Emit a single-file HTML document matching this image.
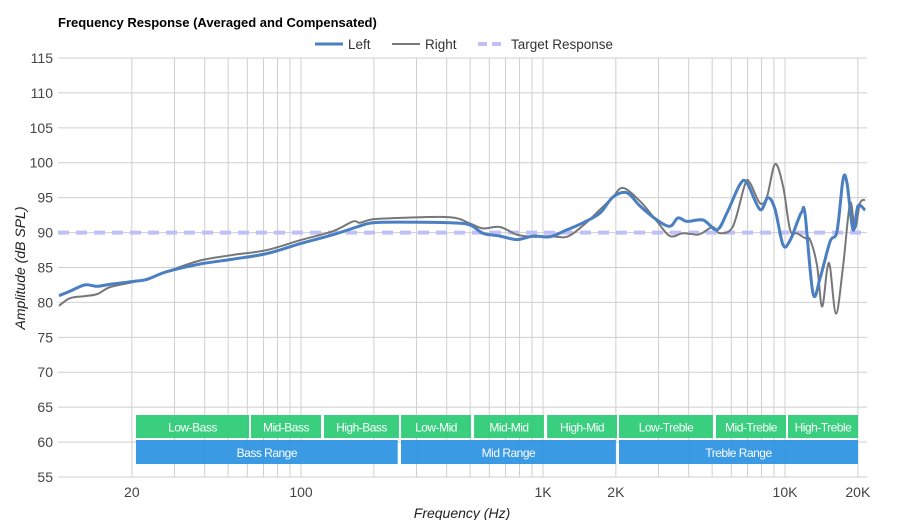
<!DOCTYPE html>
<html><head><meta charset="utf-8"><style>
body{margin:0;background:#fff;font-family:"Liberation Sans",sans-serif}
svg text{font-family:"Liberation Sans",sans-serif}
</style></head><body>
<svg id="c" width="900" height="520">
<text x="58" y="27" font-size="13" font-weight="bold" fill="#000">Frequency Response (Averaged and Compensated)</text>
<g>
<line x1="315" y1="44" x2="343" y2="44" stroke="#4a7fc1" stroke-width="3"/>
<text x="348" y="49" font-size="13.5" fill="#333">Left</text>
<line x1="392" y1="44" x2="420" y2="44" stroke="#777" stroke-width="2"/>
<text x="425" y="49" font-size="13.5" fill="#333">Right</text>
<line x1="478" y1="44" x2="506" y2="44" stroke="#c0c0f8" stroke-width="4" stroke-dasharray="9,5"/>
<text x="511" y="49" font-size="13.5" fill="#333">Target Response</text>
</g>
<g id="grid"></g><g id="bands"></g><g id="series"></g><g id="axes"></g>
<text x="462" y="518" font-size="14" font-style="italic" text-anchor="middle" fill="#222">Frequency (Hz)</text>
<text transform="translate(25,268) rotate(-90)" font-size="14" font-style="italic" text-anchor="middle" fill="#222">Amplitude (dB SPL)</text>
</svg>
<script>
const yTicks=[55,60,65,70,75,80,85,90,95,100,105,110,115];
const xGrid=[20,30,40,50,60,70,80,90,100,200,300,400,500,600,700,800,900,1000,2000,3000,4000,5000,6000,7000,8000,9000,10000,20000];
const xTickVals=[20,100,1000,2000,10000,20000];
const xTickLabels=["20","100","1K","2K","10K","20K"];
const target=90;
const leftF=[10,11.1,12.8,14.4,16.3,20.2,23.1,27.9,38.3,52.4,72.4,99,135.6,170,198,257,413,499,565,664,781,910,1069,1256,1463,1721,1946,2223,2517,2959,3347,3614,3936,4583,5234,5754,6516,6966,7885,8511,9099,9819,10497,11324,11756,12105,13054,13963,15346,16406,17372,18035,19106,20035,21420];
const leftV=[80.96,81.6,82.5,82.3,82.6,83.0,83.3,84.4,85.5,86.2,87.0,88.4,89.7,90.8,91.4,91.5,91.4,91.1,89.9,89.5,89.0,89.5,89.4,90.4,91.4,92.8,95.1,95.7,93.8,91.8,90.9,92.1,91.6,91.8,90.4,92.8,96.9,97.1,93.3,95.0,93.3,88.2,88.9,91.8,93.0,92.6,81.3,83.5,88.7,90.2,97.6,97.1,90.4,93.8,93.2];
const rightF=[10,11.1,12.8,14.4,16.3,20.2,23.8,27.9,38.3,52.4,72.4,99,135.6,164,175,198,257,413,499,565,664,781,910,1069,1256,1463,1721,1946,2141,2517,2959,3347,3790,4330,4583,5038,5383,6095,6833,7165,7885,8433,9099,9819,10497,11220,12105,12680,13552,14222,14925,15346,16255,17372,18570,19461,20410,21420];
const rightV=[79.5,80.6,80.9,81.2,82.2,82.9,83.5,84.4,86.0,86.8,87.5,88.9,90.2,91.6,91.4,91.9,92.1,92.2,91.3,90.6,90.8,89.7,89.4,89.5,89.4,91.0,93.3,95.1,96.4,94.5,91.6,89.5,89.9,89.7,90.0,90.8,89.9,90.9,96.9,97.1,94.2,95.2,99.8,96.6,90.4,89.9,89.2,89.0,85.4,79.4,84.7,85.1,78.4,85.1,94.2,90.6,94.2,94.7];
const bandNames=["Low-Bass","Mid-Bass","High-Bass","Low-Mid","Mid-Mid","High-Mid","Low-Treble","Mid-Treble","High-Treble"];
const bandFrom=[20.8,62.1,124.5,259,519,1040,2061,5188,10284];
const bandTo=[61.0,121,254,504,1009,2022,5038,10094,20035];
const rangeNames=["Bass Range","Mid Range","Treble Range"];
const rangeFrom=[20.8,259,2061];
const rangeTo=[251,2000,20035];

const NS="http://www.w3.org/2000/svg";
const X=f=>301+242*Math.log10(f/100);
const Y=v=>58+(115-v)*6.983;
function mk(tag,attrs,parent,txt){const e=document.createElementNS(NS,tag);for(const k in attrs)e.setAttribute(k,attrs[k]);if(txt!==undefined)e.textContent=txt;document.getElementById(parent).appendChild(e);return e;}
const L=58,R=867;
yTicks.forEach(v=>{
 const l=mk('line',{x1:L,x2:R,y1:Y(v),y2:Y(v),stroke:'#cfcfcf','stroke-width':1},'grid');
 
 
 const t=mk('text',{x:53,y:Y(v)+5,'font-size':14,'text-anchor':'end',fill:'#444'},'axes',String(v));
 
 
});
xGrid.forEach(f=>{
 const l=mk('line',{x1:X(f),x2:X(f),y1:58,y2:477,stroke:'#cfcfcf','stroke-width':1},'grid');
 
 
});
xTickVals.forEach((f,i)=>{
 const t=mk('text',{x:X(f),y:497,'font-size':14,'text-anchor':'middle',fill:'#444'},'axes',xTickLabels[i]);
 
 
});
function band(n,a,b,y,h,col,nm){
 const x1=X(a),x2=X(b);
 const r=mk('rect',{x:x1,y:y,width:x2-x1,height:h,fill:col,opacity:0.95},'bands');
 
 
 const t=mk('text',{x:(x1+x2)/2,y:y+h/2+5,'font-size':12,'text-anchor':'middle',fill:'#fff','letter-spacing':'-0.5'},'bands',n);
 
 
}
bandNames.forEach((n,i)=>band(n,bandFrom[i],bandTo[i],415,23,'#2ecc78','band-'+n.toLowerCase()));
rangeNames.forEach((n,i)=>band(n,rangeFrom[i],rangeTo[i],440,24,'#2f95e3','range-'+n.toLowerCase().replace(' ','-')));
function path(F,V){
 const p=F.map((f,i)=>[X(f),Y(V[i])]);
 let d='M'+p[0][0].toFixed(1)+','+p[0][1].toFixed(1);
 for(let i=0;i<p.length-1;i++){
  const p0=p[i-1]||p[i],p1=p[i],p2=p[i+1],p3=p[i+2]||p2;
  const c1=[p1[0]+(p2[0]-p0[0])/6,p1[1]+(p2[1]-p0[1])/6];
  const c2=[p2[0]-(p3[0]-p1[0])/6,p2[1]-(p3[1]-p1[1])/6];
  d+=' C'+c1.map(v=>v.toFixed(1))+' '+c2.map(v=>v.toFixed(1))+' '+p2.map(v=>v.toFixed(1));
 }
 return d;
}
const tl=mk('line',{x1:L,x2:R,y1:Y(target),y2:Y(target),stroke:'#c0c0f8','stroke-width':4,'stroke-dasharray':'11,7'},'series');


const rp=mk('path',{d:path(rightF,rightV),fill:'none',stroke:'#777','stroke-width':2},'series');


const lp=mk('path',{d:path(leftF,leftV),fill:'none',stroke:'#4a7fc1','stroke-width':3},'series');


</script>
</body></html>
